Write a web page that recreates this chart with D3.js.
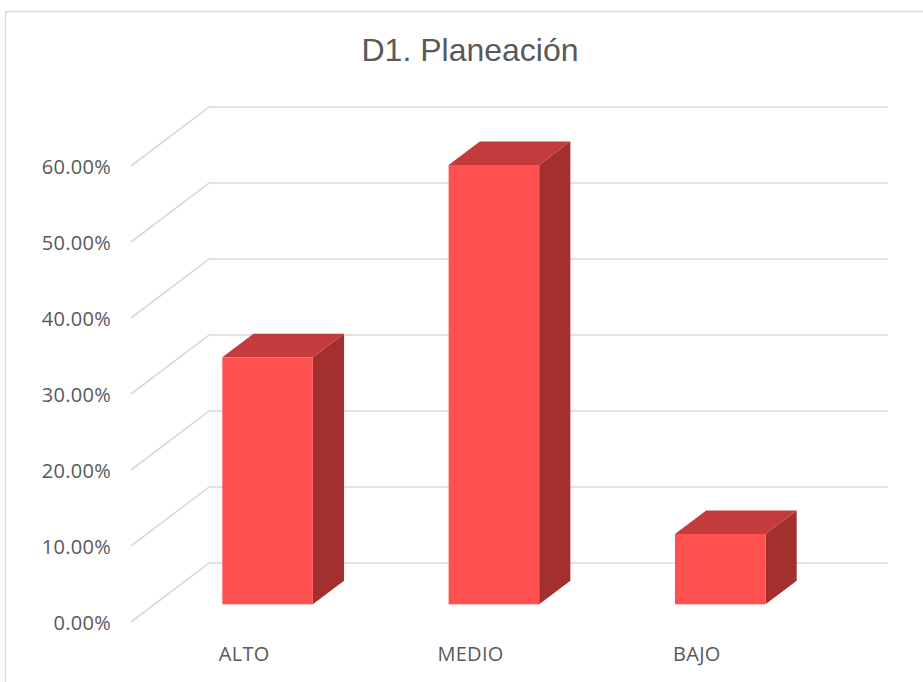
<!DOCTYPE html>
<html>
<head>
<meta charset="utf-8">
<script src="https://cdn.jsdelivr.net/npm/d3@7"></script>
<style>
  html, body { margin: 0; padding: 0; background: #fff; }
  svg { display: block; }
</style>
</head>
<body>
<svg id="chart" width="923" height="682"></svg>
<script>
// ---- data ----
const categories = ["ALTO", "MEDIO", "BAJO"];
const values = [0.325, 0.578, 0.0925];
const yTicks = [0, 0.1, 0.2, 0.3, 0.4, 0.5, 0.6];
const chartTitle = "D1. Planeación";

// ---- layout ----
const frontLeft = 131, frontRight = 810;
const floorFrontY = 622, topFrontY = 166;
const depthDX = 78, depthDY = -59;      // oblique depth offset (front -> back)
const barDepthStart = 0.3, barDepthEnd = 0.7;
const labelFont = "'Open Sans', 'Noto Sans', sans-serif";

const svg = d3.select("#chart");

// chart border
svg.append("rect")
  .attr("x", 5.5).attr("y", 11.5)
  .attr("width", 940).attr("height", 700)
  .attr("fill", "none").attr("stroke", "#D9D9D9").attr("stroke-width", 1.5);

// title
svg.append("text")
  .attr("x", 470).attr("y", 61)
  .attr("text-anchor", "middle")
  .attr("font-family", "Liberation Sans, Arial, sans-serif")
  .attr("font-size", 32)
  .attr("fill", "#595959")
  .text(chartTitle);

const x = d3.scaleBand().domain(categories).range([frontLeft, frontRight]).paddingInner(0).paddingOuter(0);
const y = d3.scaleLinear().domain([0, 0.6]).range([floorFrontY, topFrontY]);

// projection of point at (front-plane x, front-plane y, depth d)
const P = (px, py, d) => [px + depthDX * d, py + depthDY * d];

// gridlines: diagonal on side wall + horizontal on back wall
const grid = svg.append("g").attr("stroke", "#D9D9D9").attr("stroke-width", 1.6).attr("fill", "none");
yTicks.forEach(t => {
  const a = P(frontLeft, y(t), 0);
  const b = P(frontLeft, y(t), 1);
  const c = [frontRight + depthDX, b[1]];
  grid.append("path").attr("d", d3.line()([a, b, c]));
});

// bars
const barWidthFrac = 0.4;
const colFront = "#FF5050", colTop = "#C43B3C", colSide = "#A32F2F";
const bars = svg.append("g");
categories.forEach((cat, i) => {
  const bw = x.bandwidth() * barWidthFrac;
  const cx = x(cat) + x.bandwidth() / 2;
  const x0 = cx - bw / 2, x1 = cx + bw / 2;
  const yt = y(values[i]), yb = y(0);
  const f = (px, py) => P(px, py, barDepthStart);
  const k = (px, py) => P(px, py, barDepthEnd);
  const poly = pts => "M" + pts.map(p => p.join(",")).join("L") + "Z";
  bars.append("path").attr("fill", colSide)
    .attr("d", poly([f(x1, yt), k(x1, yt), k(x1, yb), f(x1, yb)]));
  bars.append("path").attr("fill", colTop)
    .attr("d", poly([f(x0, yt), k(x0, yt), k(x1, yt), f(x1, yt)]));
  const a = f(x0, yt), b = f(x1, yb);
  bars.append("rect").attr("fill", colFront)
    .attr("x", a[0]).attr("y", a[1]).attr("width", b[0] - a[0]).attr("height", b[1] - a[1]);
});

// y axis labels
const yAxis = svg.append("g")
  .attr("transform", `translate(${frontLeft - 20},1)`)
  .call(d3.axisLeft(y).tickValues(yTicks).tickSize(0).tickPadding(0)
    .tickFormat(d => (d * 100).toFixed(2) + "%"));
yAxis.select(".domain").remove();
yAxis.selectAll("text")
  .attr("font-family", labelFont)
  .attr("font-size", 20)
  .attr("letter-spacing", 0.3)
  .attr("fill", "#595959");

// x axis labels
const xAxis = svg.append("g")
  .attr("transform", `translate(0,${floorFrontY + 21})`)
  .call(d3.axisBottom(x).tickSize(0).tickPadding(4));
xAxis.select(".domain").remove();
xAxis.selectAll("text")
  .attr("font-family", labelFont)
  .attr("font-size", 20)
  .attr("letter-spacing", 0.3)
  .attr("fill", "#595959");
</script>
</body>
</html>
